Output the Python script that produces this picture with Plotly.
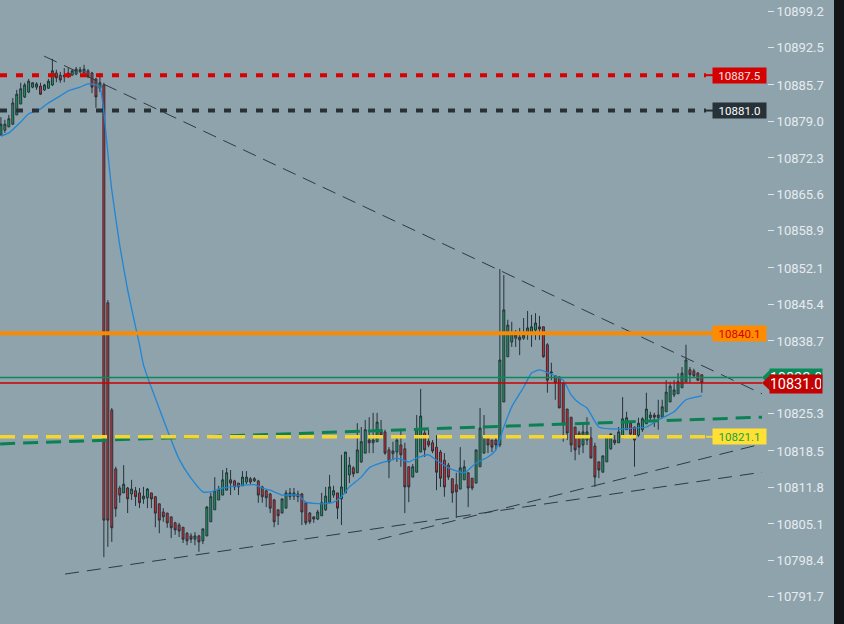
import plotly.graph_objects as go

# ---------------- data ----------------
open_prices = [
    10876.5, 10877.4, 10878.0, 10878.5, 10880.2, 10882.2, 10883.5, 10884.4, 10885.3, 10885.3,
    10885.5, 10884.8, 10885.1, 10885.7, 10887.9, 10887.5, 10887.2, 10887.2, 10887.5, 10887.7,
    10888.1, 10887.9, 10888.3, 10887.9, 10886.8, 10885.1, 10885.7, 10845.7, 10826.0, 10815.2,
    10811.7, 10810.8, 10811.7, 10810.6, 10811.2, 10810.8, 10809.7, 10809.9, 10810.8, 10810.1,
    10808.8, 10807.3, 10807.1, 10806.4, 10805.3, 10804.9, 10804.5, 10803.4, 10802.9, 10802.3,
    10802.9, 10802.0, 10802.9, 10805.5, 10807.7, 10809.5, 10810.4, 10811.3, 10813.2, 10813.0,
    10812.6, 10812.1, 10812.8, 10813.4, 10813.0, 10813.0, 10811.9, 10811.2, 10810.6, 10809.5,
    10807.7, 10807.1, 10808.0, 10810.1, 10810.2, 10810.6, 10810.6, 10809.0, 10807.1, 10806.4,
    10806.0, 10806.6, 10807.7, 10809.1, 10810.4, 10810.8, 10809.7, 10810.8, 10814.1, 10815.4,
    10814.5, 10816.5, 10818.1, 10820.5, 10820.0, 10820.2, 10822.0, 10822.0, 10818.7, 10818.0,
    10818.3, 10819.6, 10818.9, 10815.6, 10813.7, 10814.6, 10818.3, 10821.8, 10820.3, 10820.0,
    10819.2, 10818.3, 10816.8, 10815.9, 10813.4, 10812.3, 10811.5, 10813.2, 10814.5, 10813.5,
    10812.6, 10815.6, 10818.1, 10821.3, 10820.5, 10820.5, 10819.6, 10827.5, 10835.8, 10838.5,
    10839.2, 10839.4, 10839.2, 10840.2, 10840.3, 10840.7, 10841.3, 10841.3, 10838.0, 10832.8,
    10832.3, 10832.1, 10831.0, 10826.2, 10824.7, 10822.9, 10821.8, 10819.6, 10820.5, 10820.9,
    10819.4, 10816.5, 10814.6, 10816.5, 10818.9, 10820.5, 10820.0, 10820.9, 10822.4, 10823.6,
    10822.9, 10821.4, 10822.4, 10823.5, 10824.6, 10825.1, 10824.6, 10824.7, 10825.7, 10827.5,
    10828.8, 10829.0, 10830.1, 10831.2, 10833.4, 10833.2, 10832.8, 10832.5,
]
high_prices = [
    10879.8, 10879.3, 10880.2, 10883.3, 10884.8, 10886.1, 10886.1, 10886.8, 10886.2, 10886.2,
    10886.1, 10885.9, 10886.8, 10890.5, 10888.5, 10888.1, 10888.8, 10888.8, 10888.5, 10889.0,
    10889.0, 10889.4, 10888.6, 10888.1, 10887.0, 10887.9, 10886.1, 10846.2, 10826.4, 10815.6,
    10812.1, 10815.9, 10811.9, 10813.2, 10811.9, 10811.7, 10811.9, 10811.7, 10810.8, 10810.2,
    10808.8, 10808.0, 10807.1, 10806.4, 10805.5, 10805.3, 10804.5, 10803.6, 10803.4, 10803.6,
    10803.1, 10804.2, 10808.4, 10810.8, 10813.7, 10812.1, 10815.0, 10815.4, 10815.0, 10813.2,
    10812.6, 10814.8, 10814.8, 10813.7, 10813.7, 10813.2, 10812.1, 10811.3, 10810.8, 10809.7,
    10807.7, 10809.7, 10811.3, 10811.7, 10811.7, 10811.2, 10810.8, 10809.0, 10807.3, 10806.4,
    10807.7, 10810.8, 10811.9, 10814.1, 10812.1, 10810.8, 10817.8, 10818.3, 10817.4, 10815.7,
    10823.6, 10822.9, 10824.2, 10824.7, 10825.5, 10825.5, 10824.2, 10822.4, 10819.2, 10820.2,
    10821.1, 10822.4, 10820.0, 10815.6, 10816.1, 10825.1, 10829.9, 10822.4, 10822.4, 10820.5,
    10821.4, 10818.7, 10818.1, 10816.3, 10813.4, 10814.5, 10819.2, 10816.8, 10814.5, 10813.5,
    10818.7, 10826.4, 10825.1, 10821.3, 10820.5, 10820.9, 10851.9, 10850.8, 10842.6, 10842.2,
    10840.7, 10841.1, 10842.9, 10844.2, 10843.5, 10843.8, 10843.3, 10841.3, 10838.3, 10834.7,
    10832.3, 10832.1, 10831.0, 10826.2, 10824.7, 10822.9, 10822.2, 10823.6, 10824.7, 10822.9,
    10820.0, 10816.5, 10817.6, 10821.4, 10821.8, 10821.4, 10822.9, 10828.4, 10825.7, 10823.8,
    10822.9, 10824.6, 10824.7, 10829.2, 10825.7, 10825.5, 10827.9, 10827.9, 10831.5, 10831.2,
    10831.5, 10832.8, 10833.9, 10838.0, 10833.9, 10833.6, 10833.0, 10832.5,
]
low_prices = [
    10876.5, 10876.9, 10878.0, 10878.4, 10880.2, 10882.2, 10883.3, 10884.2, 10885.1, 10884.8,
    10883.9, 10884.6, 10885.0, 10885.5, 10886.2, 10886.1, 10886.2, 10887.0, 10887.4, 10887.5,
    10887.9, 10887.9, 10887.0, 10884.2, 10881.5, 10884.4, 10799.0, 10800.9, 10801.8, 10806.4,
    10809.0, 10810.8, 10807.1, 10809.5, 10808.4, 10808.0, 10808.8, 10808.0, 10808.0, 10804.5,
    10803.4, 10805.5, 10804.4, 10802.5, 10803.1, 10802.7, 10801.6, 10801.2, 10801.6, 10801.2,
    10800.0, 10801.4, 10802.9, 10805.5, 10807.7, 10809.5, 10810.4, 10811.3, 10810.4, 10811.3,
    10810.4, 10812.1, 10812.4, 10812.4, 10812.8, 10809.0, 10809.0, 10808.2, 10807.1, 10804.5,
    10804.9, 10807.1, 10808.0, 10809.5, 10809.5, 10809.1, 10804.9, 10804.9, 10805.1, 10805.3,
    10805.8, 10806.6, 10807.5, 10809.0, 10809.9, 10806.0, 10804.9, 10810.8, 10812.6, 10813.7,
    10814.5, 10816.3, 10818.1, 10818.1, 10818.1, 10820.2, 10821.1, 10817.8, 10813.5, 10816.8,
    10816.5, 10815.6, 10807.1, 10809.1, 10813.7, 10814.6, 10818.3, 10817.4, 10819.2, 10818.1,
    10811.3, 10811.9, 10810.1, 10813.2, 10809.0, 10806.2, 10811.5, 10813.2, 10808.2, 10811.3,
    10812.6, 10815.6, 10818.1, 10818.1, 10818.3, 10818.7, 10819.2, 10827.5, 10835.8, 10837.6,
    10837.6, 10836.1, 10838.9, 10838.9, 10837.6, 10838.9, 10838.9, 10835.6, 10829.2, 10831.5,
    10827.9, 10826.4, 10820.2, 10820.5, 10818.3, 10816.8, 10817.8, 10818.1, 10819.6, 10817.2,
    10811.9, 10813.5, 10814.6, 10816.5, 10818.7, 10819.6, 10820.0, 10820.9, 10822.4, 10821.1,
    10815.6, 10821.1, 10822.0, 10823.5, 10823.8, 10822.9, 10822.4, 10824.7, 10825.7, 10827.5,
    10828.4, 10829.0, 10830.1, 10831.2, 10831.0, 10831.9, 10831.3, 10829.2,
]
close_prices = [
    10878.5, 10878.5, 10879.5, 10882.4, 10884.0, 10885.0, 10885.7, 10886.4, 10886.1, 10885.9,
    10884.0, 10885.7, 10886.4, 10888.3, 10887.0, 10886.6, 10887.5, 10887.9, 10888.3, 10888.6,
    10888.5, 10888.6, 10887.2, 10885.3, 10883.5, 10886.1, 10805.8, 10805.8, 10804.4, 10807.9,
    10810.4, 10812.4, 10809.7, 10811.5, 10810.1, 10809.0, 10810.2, 10811.5, 10809.7, 10807.1,
    10805.8, 10806.4, 10805.3, 10804.4, 10804.0, 10803.8, 10802.3, 10802.0, 10802.3, 10802.9,
    10801.8, 10804.2, 10808.2, 10810.1, 10811.2, 10811.5, 10813.2, 10814.5, 10812.6, 10811.9,
    10811.9, 10813.7, 10813.7, 10812.8, 10813.4, 10810.4, 10810.1, 10809.9, 10808.0, 10805.5,
    10806.6, 10809.7, 10810.8, 10810.8, 10810.8, 10810.1, 10807.3, 10805.3, 10805.5, 10806.0,
    10807.3, 10809.0, 10810.2, 10811.9, 10811.2, 10808.0, 10811.9, 10818.3, 10815.9, 10814.3,
    10818.7, 10820.2, 10822.4, 10820.0, 10820.5, 10823.8, 10821.4, 10818.1, 10816.5, 10818.5,
    10820.5, 10817.8, 10811.9, 10811.9, 10815.6, 10822.4, 10824.9, 10818.7, 10819.6, 10818.5,
    10814.6, 10813.5, 10811.9, 10813.7, 10810.8, 10811.0, 10815.4, 10815.6, 10811.7, 10811.7,
    10818.7, 10822.7, 10821.1, 10819.6, 10819.2, 10819.6, 10835.2, 10844.4, 10841.6, 10840.2,
    10839.8, 10838.9, 10839.8, 10841.1, 10841.3, 10842.0, 10840.9, 10835.8, 10831.5, 10833.0,
    10831.0, 10826.4, 10823.3, 10821.8, 10819.6, 10818.7, 10819.2, 10822.0, 10822.0, 10817.2,
    10813.7, 10815.0, 10817.6, 10821.1, 10821.6, 10820.0, 10822.0, 10824.4, 10824.6, 10821.6,
    10820.5, 10823.6, 10824.4, 10826.2, 10825.1, 10824.7, 10825.1, 10826.6, 10829.3, 10830.4,
    10829.7, 10831.2, 10832.8, 10835.2, 10832.5, 10832.3, 10831.5, 10831.0,
]
candle_index = list(range(len(open_prices)))

# moving average (blue line), read at selected candles
ma_index = [0, 2, 5, 7, 10, 12, 15, 17, 20, 22, 24, 25, 26, 27, 28, 30, 32, 34, 35, 36,
            37, 39, 42, 45, 48, 51, 53, 56, 60, 64, 66, 68, 71, 75, 77, 81, 84, 86, 88, 91,
            93, 96, 98, 100, 103, 105, 108, 110, 113, 117, 120, 123, 125, 127, 129, 132, 134,
            136, 139, 142, 144, 146, 148, 151, 156, 160, 163, 166, 170, 173, 177]
ma_values = [10876.3, 10876.9, 10878.9, 10880.4, 10881.3, 10882.4, 10883.7, 10884.6, 10885.3,
             10885.9, 10885.7, 10885.3, 10880.7, 10873.2, 10866.4, 10856.3, 10848.1, 10841.3,
             10838.0, 10834.3, 10832.1, 10828.2, 10822.4, 10817.0, 10813.5, 10811.0, 10811.0,
             10811.7, 10812.1, 10812.3, 10811.7, 10811.3, 10810.4, 10810.4, 10809.1, 10808.8,
             10809.1, 10810.1, 10811.9, 10813.7, 10815.4, 10816.3, 10816.7, 10817.2, 10816.5,
             10817.2, 10817.8, 10816.8, 10815.4, 10814.5, 10816.3, 10817.4, 10818.7, 10822.9,
             10826.6, 10830.2, 10832.8, 10833.4, 10832.6, 10831.5, 10828.8, 10827.3, 10826.4,
             10822.9, 10822.5, 10822.7, 10822.9, 10824.2, 10825.7, 10827.9, 10828.6]

# horizontal levels
level_red = 10887.5
level_black = 10881.0
level_orange = 10840.1
level_yellow = 10821.1
bid_price = 10832.0
last_price = 10831.0

# trend lines (candle index, price)
trend_upper_x, trend_upper_y = [10.9, 192.2], [10891.0, 10829.0]
trend_low1_x, trend_low1_y = [16.2, 192.2], [10795.9, 10814.6]
trend_low2_x, trend_low2_y = [95.2, 192.2], [10802.2, 10819.8]
trend_green_x, trend_green_y = [-0.2, 192.2], [10819.8, 10824.7]

tick_values = [10899.2, 10892.5, 10885.7, 10879.0, 10872.3, 10865.6, 10858.9, 10852.1,
               10845.4, 10838.7, 10825.3, 10818.5, 10811.8, 10805.1, 10798.4, 10791.7]

# ---------------- styling ----------------
BG = '#8fa3ad'
EDGE = '#121416'      # dark strip at the right edge of the window
FIG_W = 844
PLOT_W = 767.0        # plot area width in px
def px(xpix):
    return xpix / PLOT_W

fig = go.Figure()

fig.add_trace(go.Candlestick(
    x=candle_index, open=open_prices, high=high_prices, low=low_prices, close=close_prices,
    increasing=dict(line=dict(color='#263238', width=1), fillcolor='#17a266'),
    decreasing=dict(line=dict(color='#263238', width=1), fillcolor='#e32630'),
    whiskerwidth=0, hoverinfo='skip', showlegend=False,
))

fig.add_trace(go.Scatter(
    x=ma_index, y=ma_values, mode='lines',
    line=dict(color='#1f86d6', width=1.3, shape='spline', smoothing=0.5),
    hoverinfo='skip', showlegend=False,
))

gray = '#2f3a40'
for tx, ty in [(trend_upper_x, trend_upper_y), (trend_low1_x, trend_low1_y), (trend_low2_x, trend_low2_y)]:
    fig.add_trace(go.Scatter(x=tx, y=ty, mode='lines',
                             line=dict(color=gray, width=1, dash='14px,8px'),
                             hoverinfo='skip', showlegend=False))
fig.add_trace(go.Scatter(x=trend_green_x, y=trend_green_y, mode='lines',
                         line=dict(color='#0b8053', width=3, dash='15px,8px'),
                         hoverinfo='skip', showlegend=False))

shapes = []
def hline(y, color, width, dash, x1pix):
    shapes.append(dict(type='line', xref='paper', yref='y', x0=0, x1=px(x1pix), y0=y, y1=y,
                       line=dict(color=color, width=width, dash=dash), layer='above'))

def stub(y, color):
    shapes.append(dict(type='line', xref='paper', yref='y', x0=px(706), x1=px(714), y0=y, y1=y,
                       line=dict(color=color, width=2), layer='above'))

hline(level_yellow, '#f5d631', 3.5, '15px,8px', 706)
hline(level_red, '#d80000', 4, '7px,9px', 706)
hline(level_black, '#283136', 4, '7px,9px', 706)
hline(level_orange, '#fa8a00', 4, 'solid', 714)
hline(bid_price, '#0a8a58', 1.5, 'solid', 762)
hline(last_price, '#cc0000', 1.5, 'solid', 762)
stub(level_red, '#d80000')
stub(level_black, '#283136')
stub(level_yellow, '#f5d631')

# tag arrow tips for the current price labels
half = 1.6
for yv, col in [(bid_price, '#0a8a58'), (last_price, '#c40000')]:
    shapes.append(dict(type='path', xref='paper', yref='y',
                       path=f'M {px(771)} {yv + half} L {px(762)} {yv} L {px(771)} {yv - half} Z',
                       fillcolor=col, line=dict(width=0), layer='above'))

# dark strip (shape in paper coordinates, beyond the plot area)
shapes.append(dict(type='rect', xref='paper', yref='paper', x0=px(834), x1=px(846), y0=0, y1=1,
                   fillcolor=EDGE, line=dict(width=0), layer='above'))

annotations = []
def level_label(y, text, bg, fg):
    annotations.append(dict(xref='paper', yref='y', x=px(739.5), y=y, text=text, showarrow=False,
                            xanchor='center', yanchor='middle', width=51, height=13, borderpad=1,
                            bgcolor=bg, font=dict(family='Roboto', size=11.5, color=fg)))

level_label(level_red, f'{level_red:.1f}', '#d50000', '#ffe2e2')
level_label(level_black, f'{level_black:.1f}', '#263238', '#ffffff')
level_label(level_orange, f'{level_orange:.1f}', '#ff8c00', '#d40000')
level_label(level_yellow, f'{level_yellow:.1f}', '#ffe033', '#17a04a')

for yv, col, yshift in [(bid_price, '#0a8a58', -1), (last_price, '#c40000', -1)]:
    annotations.append(dict(xref='paper', yref='y', x=px(796), y=yv, yshift=yshift,
                            text=f'{yv:.1f}', showarrow=False, xanchor='center', yanchor='middle',
                            width=50, height=16, borderpad=1, bgcolor=col,
                            font=dict(family='Roboto', size=14.5, color='#ffffff')))

edge_svg = ("data:image/svg+xml;utf8,<svg xmlns='http://www.w3.org/2000/svg' width='10' height='10'>"
            "<rect width='10' height='10' fill='%23121416'/></svg>")

fig.update_layout(
    width=FIG_W, height=624,
    margin=dict(l=0, r=FIG_W - int(PLOT_W), t=0, b=0),
    paper_bgcolor=BG, plot_bgcolor=BG,
    showlegend=False,
    xaxis=dict(range=[-0.23, 193.46], visible=False, showgrid=False, zeroline=False,
               rangeslider=dict(visible=False)),
    yaxis=dict(range=[10786.73, 10901.3], side='right', tickmode='array',
               tickvals=tick_values, ticktext=[f'{v:.1f}' for v in tick_values],
               ticks='outside', ticklen=6, tickwidth=1, tickcolor='#dfe5e8',
               tickfont=dict(family='Roboto', size=13, color='#e6ebee'),
               showgrid=False, zeroline=False, showline=False),
    shapes=shapes,
    annotations=annotations,
    images=[dict(source=edge_svg, xref='paper', yref='paper', x=px(834), y=1,
                 sizex=px(12), sizey=1, xanchor='left', yanchor='top',
                 sizing='stretch', layer='above')],
)

fig.write_html('out.html', config={'displayModeBar': False},
               post_script=("document.body.style.margin='0';document.body.style.overflow='hidden';"
                            f"document.body.style.background='{EDGE}';"))
